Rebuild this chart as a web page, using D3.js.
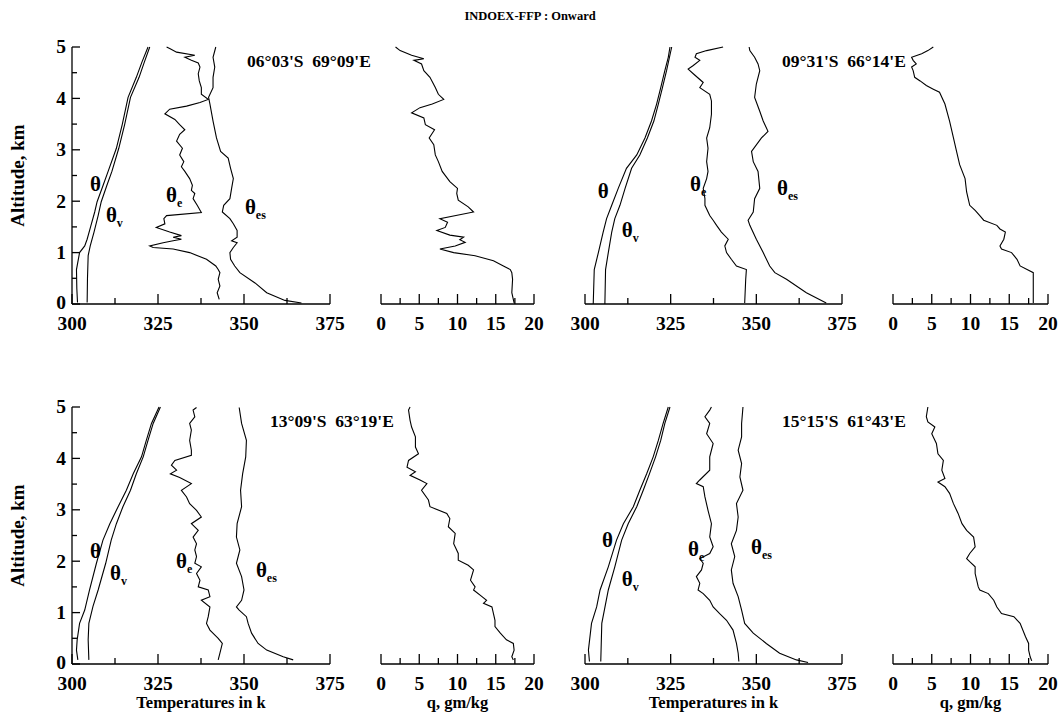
<!DOCTYPE html>
<html><head><meta charset="utf-8">
<script src="https://cdn.jsdelivr.net/npm/d3@7"></script>
<style>
body{margin:0;background:#fff}
svg text{font-family:"Liberation Serif","Times New Roman",serif;font-weight:bold;fill:#000}
</style>
</head><body>
<svg id="chart" width="1061" height="717"></svg>
<script>
// ---------------- DATA ----------------
const chartTitle = "INDOEX-FFP : Onward";
const tempTicks = [300, 325, 350, 375];
const qTicks = [0, 5, 10, 15, 20];
const altTicks = [0, 1, 2, 3, 4, 5];
const locations = ["06°03'S  69°09'E", "09°31'S  66°14'E", "13°09'S  63°19'E", "15°15'S  61°43'E"];
const tempLabel = "Temperatures in k";
const qLabel = "q, gm/kg";
const altLabel = "Altitude, km";

// each series: [altitude km, value]
// Panel 1: 06°03'S 69°09'E
const p1Theta = [[0.03,301.6],[0.3,301.4],[0.67,301.3],[1.0,302.2],[1.13,303.7],[1.26,304.4],[1.5,305.4],[1.79,306.6],[1.99,307.3],[2.3,309.0],[2.58,310.5],[3.03,312.9],[3.49,314.6],[4.02,316.3],[4.41,318.7],[4.7,320.3],[5.0,322.1]];
const p1ThetaV = [[0.03,304.4],[0.5,304.5],[0.94,304.7],[1.13,305.3],[1.4,306.4],[1.72,307.6],[1.99,308.5],[2.3,310.1],[2.58,311.6],[3.03,313.6],[3.49,315.3],[4.02,317.0],[4.41,319.5],[4.7,321.0],[5.0,322.6]];
const p1ThetaE = [[0.09,342.8],[0.22,342.2],[0.35,343.0],[0.48,342.5],[0.61,343.0],[0.67,342.5],[0.74,341.8],[0.87,339.1],[1.0,334.2],[1.07,329.4],[1.1,323.6],[1.13,322.6],[1.19,326.5],[1.23,329.4],[1.26,331.8],[1.3,329.4],[1.33,331.8],[1.4,328.4],[1.49,324.5],[1.56,327.0],[1.66,326.7],[1.72,327.5],[1.78,337.6],[1.92,336.4],[2.05,335.2],[2.15,335.7],[2.21,334.7],[2.31,335.0],[2.44,334.2],[2.58,332.8],[2.67,331.8],[2.77,332.5],[2.9,331.3],[3.03,332.1],[3.17,330.4],[3.3,331.3],[3.39,332.8],[3.49,331.3],[3.59,329.9],[3.7,327.0],[3.79,328.4],[3.85,333.3],[3.92,337.2],[3.98,339.6],[4.08,337.6],[4.21,337.6],[4.34,337.0],[4.48,336.7],[4.61,337.2],[4.69,336.7],[4.74,334.7],[4.8,332.8],[4.84,335.7],[4.9,330.4],[4.97,328.4],[5.0,327.5]];
const p1ThetaEs = [[0.02,366.7],[0.07,361.9],[0.22,356.6],[0.41,353.2],[0.61,348.8],[0.74,347.3],[0.87,346.1],[1.0,345.9],[1.1,346.9],[1.19,348.0],[1.23,346.4],[1.3,348.0],[1.43,348.0],[1.56,346.9],[1.66,345.9],[1.79,343.7],[1.92,344.1],[2.05,345.9],[2.25,346.4],[2.44,346.9],[2.64,346.1],[2.84,345.4],[2.97,343.2],[3.23,342.0],[3.56,341.0],[3.89,340.1],[4.02,339.7],[4.21,341.0],[4.41,341.0],[4.61,341.5],[4.8,341.0],[5.0,341.8]];
const p1Q = [[0.02,17.4],[0.22,17.1],[0.48,17.2],[0.61,17.1],[0.67,16.9],[0.74,16.0],[0.84,14.7],[0.94,12.3],[1.0,9.5],[1.07,7.7],[1.13,9.7],[1.2,11.0],[1.25,10.3],[1.3,10.8],[1.34,9.0],[1.43,7.3],[1.49,8.4],[1.59,8.7],[1.66,7.7],[1.79,12.1],[1.89,11.4],[2.02,10.1],[2.15,9.9],[2.25,10.0],[2.38,9.0],[2.58,8.0],[2.77,7.5],[2.9,7.1],[3.1,6.9],[3.23,6.3],[3.39,7.0],[3.49,5.8],[3.62,5.6],[3.72,4.0],[3.82,5.1],[3.89,6.7],[3.98,8.2],[4.08,7.5],[4.21,7.1],[4.41,6.4],[4.54,5.6],[4.67,5.3],[4.74,4.3],[4.77,5.6],[4.84,4.0],[4.93,2.5],[5.0,1.9]];

// Panel 2: 09°31'S 66°14'E
const p2Theta = [[0.0,302.4],[0.67,302.7],[1.0,303.9],[1.4,305.3],[1.66,306.3],[1.92,307.8],[2.25,309.7],[2.64,312.1],[2.9,315.1],[3.23,317.5],[3.56,319.4],[3.89,320.9],[4.21,322.1],[4.54,323.3],[4.8,324.3],[5.0,324.8]];
const p2ThetaV = [[0.0,305.8],[0.67,306.0],[1.0,306.8],[1.4,307.8],[1.66,308.7],[1.92,310.2],[2.25,311.7],[2.64,313.6],[2.9,316.0],[3.23,318.2],[3.56,320.1],[3.89,321.4],[4.21,322.6],[4.54,323.8],[5.0,325.3]];
const p2ThetaE = [[0.02,346.6],[0.48,346.9],[0.67,347.1],[0.74,344.2],[0.87,342.7],[1.0,341.3],[1.13,340.8],[1.26,341.8],[1.4,339.8],[1.53,338.4],[1.63,337.4],[1.72,336.4],[1.92,335.0],[2.05,335.0],[2.25,334.5],[2.44,335.5],[2.58,335.9],[2.77,335.5],[3.03,335.9],[3.23,335.5],[3.43,336.4],[3.69,336.9],[3.95,336.9],[4.08,336.4],[4.21,333.5],[4.31,334.5],[4.48,331.6],[4.57,330.1],[4.64,331.6],[4.74,333.5],[4.8,332.1],[4.87,332.5],[4.93,335.5],[5.0,340.3]];
const p2ThetaEs = [[0.02,370.4],[0.22,364.6],[0.48,358.8],[0.61,355.4],[0.74,353.9],[1.0,352.0],[1.26,350.0],[1.53,348.1],[1.63,347.6],[1.79,349.1],[2.05,349.5],[2.25,351.0],[2.58,350.5],[2.77,349.1],[2.97,348.6],[3.23,351.5],[3.36,353.4],[3.56,352.0],[3.75,351.0],[4.02,349.5],[4.28,350.0],[4.54,351.0],[4.67,350.5],[4.8,349.5],[4.93,348.1],[5.0,347.9]];
const p2Q = [[0.02,18.1],[0.48,18.1],[0.61,18.1],[0.67,17.3],[0.74,16.4],[0.87,16.0],[1.0,15.3],[1.07,14.0],[1.13,13.8],[1.26,14.3],[1.4,14.5],[1.46,13.8],[1.53,13.4],[1.63,11.7],[1.72,11.2],[1.82,10.6],[1.92,9.9],[2.05,9.7],[2.18,9.5],[2.44,9.3],[2.71,8.6],[2.97,8.2],[3.23,7.8],[3.56,7.3],[3.89,6.7],[4.12,6.0],[4.18,5.2],[4.25,4.3],[4.34,3.5],[4.41,2.8],[4.54,2.6],[4.61,2.4],[4.67,3.0],[4.74,2.6],[4.8,2.4],[4.87,3.7],[4.93,4.5],[5.0,5.2]];

// Panel 3: 13°09'S 63°19'E
const p3Theta = [[0.08,301.7],[0.27,301.3],[0.47,301.5],[0.79,302.2],[1.05,303.7],[1.44,305.1],[1.96,307.1],[2.41,309.0],[2.73,311.0],[3.06,313.4],[3.38,315.8],[3.7,317.8],[4.03,320.2],[4.35,321.6],[4.68,323.1],[5.0,325.3]];
const p3ThetaV = [[0.08,304.9],[0.47,304.7],[0.79,304.9],[1.12,306.1],[1.44,307.6],[1.96,309.8],[2.41,311.4],[2.73,312.9],[3.06,314.8],[3.38,317.0],[3.7,318.7],[4.03,320.7],[4.35,322.1],[4.68,323.6],[5.0,325.7]];
const p3ThetaE = [[0.08,342.5],[0.21,343.0],[0.4,343.7],[0.5,342.5],[0.66,340.1],[0.79,339.1],[0.92,339.6],[1.11,340.1],[1.24,337.6],[1.31,340.1],[1.44,339.6],[1.5,336.7],[1.63,337.2],[1.76,336.2],[1.89,337.6],[1.96,335.7],[2.09,336.2],[2.22,335.7],[2.34,336.2],[2.47,335.2],[2.6,336.7],[2.73,334.7],[2.86,337.6],[2.99,336.2],[3.12,334.2],[3.25,333.3],[3.38,331.8],[3.51,334.7],[3.63,331.3],[3.7,328.6],[3.77,330.4],[3.87,328.9],[3.96,329.9],[4.06,334.7],[4.16,334.7],[4.35,334.2],[4.55,334.7],[4.68,334.2],[4.81,335.7],[4.94,335.2],[4.99,336.2]];
const p3ThetaEs = [[0.08,364.3],[0.14,361.4],[0.27,356.6],[0.4,354.1],[0.6,352.2],[0.79,351.2],[0.92,350.7],[1.05,348.6],[1.11,347.8],[1.24,349.3],[1.44,350.0],[1.7,349.3],[1.96,347.8],[2.22,348.8],[2.47,347.8],[2.73,348.0],[3.06,349.3],[3.38,349.0],[3.7,349.6],[4.03,350.5],[4.35,350.7],[4.68,349.3],[4.99,348.6]];
const p3Q = [[0.08,17.3],[0.14,17.1],[0.27,17.4],[0.4,17.3],[0.47,16.4],[0.6,15.6],[0.73,14.9],[0.85,14.9],[0.98,14.7],[1.11,14.5],[1.18,13.4],[1.24,13.8],[1.31,13.2],[1.44,12.1],[1.5,12.3],[1.63,11.7],[1.83,12.1],[1.92,11.4],[2.02,10.1],[2.15,10.1],[2.34,9.5],[2.54,9.7],[2.67,8.8],[2.83,9.0],[2.93,8.6],[3.06,6.4],[3.19,6.2],[3.38,5.3],[3.51,6.0],[3.58,5.1],[3.67,3.8],[3.74,4.5],[3.83,3.4],[3.96,3.6],[4.09,4.9],[4.22,4.5],[4.42,4.5],[4.61,4.0],[4.74,3.8],[4.94,3.6],[5.0,3.8]];

// Panel 4: 15°15'S 61°43'E
const p4Theta = [[0.05,301.3],[0.27,301.0],[0.79,301.9],[1.11,303.4],[1.44,304.4],[1.89,306.8],[2.41,309.2],[2.73,311.2],[3.06,314.1],[3.38,316.0],[3.7,318.0],[4.03,319.9],[4.35,321.4],[4.68,322.8],[5.0,324.3]];
const p4ThetaV = [[0.05,304.6],[0.79,304.9],[1.44,306.8],[1.89,308.7],[2.41,310.7],[2.73,312.6],[3.06,315.1],[3.38,317.0],[3.7,318.8],[4.03,320.6],[4.35,322.1],[4.68,323.3],[5.0,324.8]];
const p4ThetaE = [[0.05,344.9],[0.21,344.7],[0.4,344.2],[0.66,343.2],[0.85,341.3],[0.98,339.3],[1.11,337.4],[1.24,336.4],[1.37,334.5],[1.44,333.0],[1.57,333.5],[1.7,332.5],[1.83,334.0],[1.96,334.5],[2.05,333.5],[2.15,336.4],[2.28,337.4],[2.47,336.4],[2.73,336.9],[2.99,335.9],[3.25,335.0],[3.45,334.5],[3.51,332.5],[3.58,333.5],[3.77,336.4],[4.03,336.4],[4.29,337.4],[4.48,335.5],[4.68,336.4],[4.81,335.0],[4.94,336.4],[5.0,336.9]];
const p4ThetaEs = [[0.03,365.1],[0.08,361.7],[0.21,356.8],[0.4,352.9],[0.6,349.1],[0.79,346.6],[1.05,345.7],[1.31,344.7],[1.57,343.2],[1.83,342.7],[2.09,343.7],[2.34,342.7],[2.6,344.2],[2.86,344.7],[3.12,344.2],[3.38,346.1],[3.64,345.2],[3.9,345.7],[4.16,344.7],[4.42,345.7],[4.68,345.7],[5.0,346.1]];
const p4Q = [[0.06,17.9],[0.14,17.7],[0.27,17.5],[0.4,17.5],[0.53,17.1],[0.79,16.4],[0.92,15.6],[0.98,14.0],[1.11,13.4],[1.24,13.0],[1.37,12.3],[1.44,11.2],[1.5,11.0],[1.63,10.8],[1.76,10.6],[1.89,10.6],[1.99,9.9],[2.05,9.5],[2.15,9.9],[2.28,10.6],[2.47,10.4],[2.6,9.5],[2.73,8.9],[2.93,8.4],[3.12,7.8],[3.32,7.3],[3.45,6.7],[3.54,5.8],[3.61,6.7],[3.77,6.3],[3.96,6.5],[4.09,5.8],[4.29,5.6],[4.48,5.0],[4.61,5.4],[4.71,4.5],[4.81,4.3],[5.0,4.5]];

// curve label anchor points in data units [temperature, altitude]
const p1LabelAt = {theta:[307.0,2.35], thetaV:[311.6,1.73], thetaE:[329.1,2.12], thetaEs:[352.0,1.89]};
const p2LabelAt = {theta:[305.5,2.20], thetaV:[312.5,1.44], thetaE:[332.4,2.35], thetaEs:[357.8,2.26]};
const p3LabelAt = {theta:[307.0,2.20], thetaV:[312.8,1.77], thetaE:[332.0,2.02], thetaEs:[355.2,1.83]};
const p4LabelAt = {theta:[306.7,2.41], thetaV:[312.5,1.67], thetaE:[331.8,2.24], thetaEs:[350.2,2.28]};

// ---------------- LAYOUT ----------------
const svg = d3.select("#chart");
const panels = [
  {theta:p1Theta, thetaV:p1ThetaV, thetaE:p1ThetaE, thetaEs:p1ThetaEs, q:p1Q, loc:locations[0], lab:p1LabelAt, tx:[72,330], qx:[381,534], yy:[304,47], yAxis:true, xTitle:false, locX:247},
  {theta:p2Theta, thetaV:p2ThetaV, thetaE:p2ThetaE, thetaEs:p2ThetaEs, q:p2Q, loc:locations[1], lab:p2LabelAt, tx:[585,842], qx:[893,1048], yy:[304,47], yAxis:false, xTitle:false, locX:782},
  {theta:p3Theta, thetaV:p3ThetaV, thetaE:p3ThetaE, thetaEs:p3ThetaEs, q:p3Q, loc:locations[2], lab:p3LabelAt, tx:[72,330], qx:[381,534], yy:[664,407], yAxis:true, xTitle:true, locX:270},
  {theta:p4Theta, thetaV:p4ThetaV, thetaE:p4ThetaE, thetaEs:p4ThetaEs, q:p4Q, loc:locations[3], lab:p4LabelAt, tx:[585,842], qx:[893,1048], yy:[664,407], yAxis:false, xTitle:true, locX:782}
];

svg.append("text").attr("x", 530).attr("y", 20).attr("text-anchor", "middle")
  .style("font-size", "12.5px").text(chartTitle);

function drawTicks(g, scale, values, majorSet, orient, majorLen, minorLen){
  values.forEach(v => {
    const major = majorSet.includes(v);
    const len = major ? majorLen : minorLen;
    const p = scale(v);
    if (orient === "bottom") g.append("line").attr("x1", p).attr("x2", p).attr("y1", 0).attr("y2", -len);
    else g.append("line").attr("y1", p).attr("y2", p).attr("x1", 0).attr("x2", len);
  });
}

panels.forEach(P => {
  const xT = d3.scaleLinear().domain([300, 375]).range(P.tx);
  const xQ = d3.scaleLinear().domain([0, 20]).range(P.qx);
  const y = d3.scaleLinear().domain([0, 5]).range(P.yy);
  const g = svg.append("g").attr("stroke", "#000").attr("fill", "none");

  // temperature axis
  const ax = g.append("g").attr("transform", `translate(0,${P.yy[0]})`).attr("stroke-width", 1.3);
  ax.append("line").attr("x1", P.tx[0]).attr("x2", P.tx[1]);
  drawTicks(ax, xT, d3.range(300, 375.1, 12.5), tempTicks, "bottom", 10, 6);
  tempTicks.forEach(t => svg.append("text").attr("x", xT(t)).attr("y", P.yy[0] + 26)
    .attr("text-anchor", "middle").style("font-size", "19.5px").text(t));

  // q axis
  const aq = g.append("g").attr("transform", `translate(0,${P.yy[0]})`).attr("stroke-width", 1.3);
  aq.append("line").attr("x1", P.qx[0]).attr("x2", P.qx[1]);
  drawTicks(aq, xQ, d3.range(0, 20.01, 2.5), qTicks, "bottom", 10, 6);
  qTicks.forEach(t => svg.append("text").attr("x", xQ(t)).attr("y", P.yy[0] + 26)
    .attr("text-anchor", "middle").style("font-size", "19.5px").text(t));

  if (P.yAxis) {
    const ay = g.append("g").attr("transform", `translate(${P.tx[0]},0)`).attr("stroke-width", 1.3);
    ay.append("line").attr("y1", y(0)).attr("y2", y(5));
    drawTicks(ay, y, d3.range(0, 5.01, 0.5), altTicks, "left", 8, 5);
    altTicks.forEach(t => svg.append("text").attr("x", P.tx[0] - 6).attr("y", y(t) - (t === 0 ? 1 : 0)).attr("dy", "0.33em")
      .attr("text-anchor", "end").style("font-size", "19.5px").text(t));
    svg.append("text").attr("transform", `translate(24,${(y(0)+y(5))/2}) rotate(-90)`)
      .attr("text-anchor", "middle").style("font-size", "19px").text(altLabel);
  }
  if (P.xTitle) {
    svg.append("text").attr("x", (P.tx[0]+P.tx[1])/2).attr("y", P.yy[0] + 44)
      .attr("text-anchor", "middle").style("font-size", "16.5px").text(tempLabel);
    svg.append("text").attr("x", (P.qx[0]+P.qx[1])/2).attr("y", P.yy[0] + 44)
      .attr("text-anchor", "middle").style("font-size", "16.5px").text(qLabel);
  }

  // curves
  const lineT = d3.line().x(d => xT(d[1])).y(d => y(d[0]));
  const lineQ = d3.line().x(d => xQ(d[1])).y(d => y(d[0]));
  [P.theta, P.thetaV, P.thetaE, P.thetaEs].forEach(s =>
    g.append("path").attr("d", lineT(s)).attr("stroke-width", 1.1));
  g.append("path").attr("d", lineQ(P.q)).attr("stroke-width", 1.1);

  // location
  svg.append("text").attr("x", P.locX).attr("y", y(5) + 20).style("font-size", "17.5px")
    .attr("xml:space", "preserve").text(P.loc);

  // curve labels
  const labs = [["theta",""],["thetaV","v"],["thetaE","e"],["thetaEs","es"]];
  labs.forEach(([k, sub]) => {
    const [tv, av] = P.lab[k];
    const t = svg.append("text").attr("x", xT(tv) - 6).attr("y", y(av)).attr("dy", "0.35em")
      .style("font-size", "21px");
    t.append("tspan").text("θ");
    if (sub) t.append("tspan").attr("dy", "5").style("font-size", "12px").text(sub);
  });
});
</script>
</body></html>
